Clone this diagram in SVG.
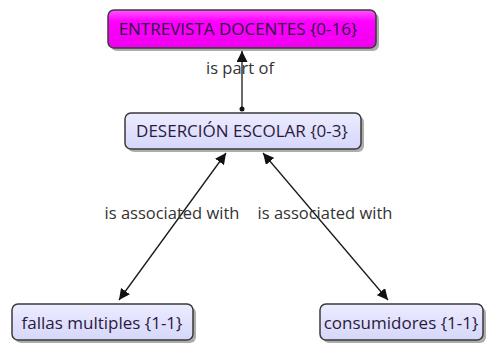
<svg xmlns="http://www.w3.org/2000/svg" width="493" height="343" viewBox="0 0 493 343">
<style>
.box{stroke:#3a3a3a;stroke-width:1.5}
.shadow{fill:#8a8a8a;opacity:0.7}
.nt{font-family:"Open Sans","Noto Sans",sans-serif;font-size:17px;fill:#2a1a40;text-anchor:middle}
.lt{font-family:"Open Sans","Noto Sans",sans-serif;font-size:16.5px;fill:#333;text-anchor:middle}
.ln{stroke:#1a1a1a;stroke-width:1.3;fill:none}
</style>
<defs>
<linearGradient id="gm" x1="0" y1="0" x2="0" y2="1"><stop offset="0" stop-color="#ff55ff"/><stop offset="0.3" stop-color="#ff00ff"/><stop offset="1" stop-color="#ee00ee"/></linearGradient>
<linearGradient id="gl" x1="0" y1="0" x2="0" y2="1"><stop offset="0" stop-color="#ececff"/><stop offset="1" stop-color="#d6d6fa"/></linearGradient>
<marker id="ah" viewBox="0 0 10 10" refX="10" refY="5" markerWidth="11" markerHeight="11" markerUnits="userSpaceOnUse" orient="auto-start-reverse"><path d="M0,0 L10,5 L0,10 z" fill="#111"/></marker>
</defs>
<g id="connectors">
<line class="ln" x1="242" y1="109" x2="242" y2="51" marker-end="url(#ah)"/>
<circle cx="242" cy="109" r="2.5" fill="#111"/>
<line class="ln" x1="226" y1="153" x2="119" y2="300" marker-start="url(#ah)" marker-end="url(#ah)"/>
<line class="ln" x1="263" y1="153" x2="388" y2="300" marker-start="url(#ah)" marker-end="url(#ah)"/>
<text class="lt" x="240" y="74">is part of</text>
<text class="lt" x="172" y="219">is associated with</text>
<text class="lt" x="325" y="219">is associated with</text>
</g>
<g id="n1">
<rect class="shadow" x="111" y="13" width="268" height="38" rx="6"/>
<rect class="box" x="108" y="10" width="268" height="38" rx="6" fill="url(#gm)"/>
<text class="nt" x="238" y="35">ENTREVISTA DOCENTES {0-16}</text>
</g>
<g id="n2">
<rect class="shadow" x="128" y="116" width="236" height="36" rx="6"/>
<rect class="box" x="125" y="113" width="236" height="36" rx="6" fill="url(#gl)"/>
<text class="nt" x="242" y="137">DESERCIÓN ESCOLAR {0-3}</text>
</g>
<g id="n3">
<rect class="shadow" x="15" y="307" width="181" height="36" rx="6"/>
<rect class="box" x="12" y="304" width="181" height="36" rx="6" fill="url(#gl)"/>
<text class="nt" x="102" y="329">fallas multiples {1-1}</text>
</g>
<g id="n4">
<rect class="shadow" x="323" y="307" width="163" height="36" rx="6"/>
<rect class="box" x="320" y="304" width="163" height="36" rx="6" fill="url(#gl)"/>
<text class="nt" x="401" y="329">consumidores {1-1}</text>
</g>
</svg>
